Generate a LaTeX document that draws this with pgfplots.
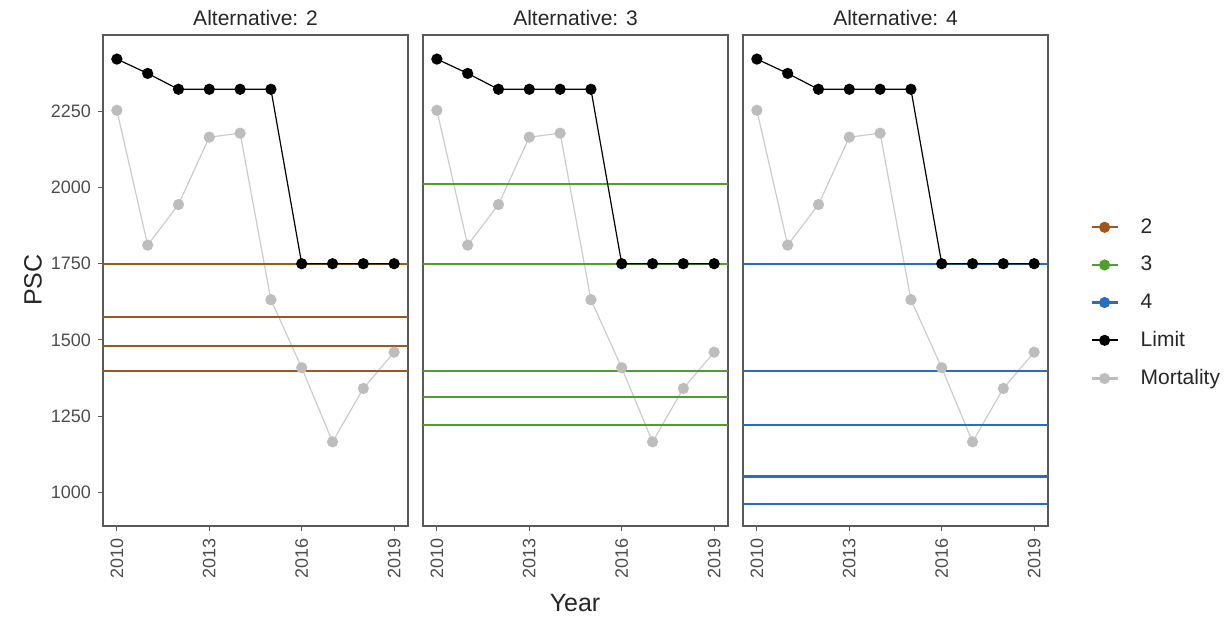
\documentclass[border=0pt]{standalone}
\usepackage{fontspec}
\setmainfont{Liberation Sans}
\usepackage{pgfplots}
\pgfplotsset{compat=1.18}
\definecolor{altbrown}{HTML}{A0581A}
\definecolor{altgreen}{HTML}{4DA02E}
\definecolor{altblue}{HTML}{2A6EBB}
\definecolor{mortgray}{HTML}{BDBDBD}
\definecolor{mortline}{HTML}{CCCCCC}
\definecolor{ticktext}{HTML}{4D4D4D}
\definecolor{framegray}{HTML}{595959}

\pgfplotstableread{
year limit mort
2010 2421 2253
2011 2374 1811
2012 2322 1944
2013 2322 2165
2014 2322 2178
2015 2322 1632
2016 1750 1409
2017 1750 1166
2018 1750 1341
2019 1750 1460
}\datatable

\pgfplotsset{panel/.style={
  scale only axis, width=152.5pt, height=245.5pt, anchor=south west,
  xmin=2009.55, xmax=2019.45, ymin=890, ymax=2500,
  xtick={2010,2013,2016,2019},
  ytick={1000,1250,1500,1750,2000,2250},
  tick align=outside, tick pos=left, major tick length=2.5pt,
  every tick/.style={framegray, line width=0.5pt},
  axis line style={framegray, line width=0.6pt},
  /pgf/number format/1000 sep={},
  /pgf/number format/assume math mode=true,
  tick label style={font=\fontsize{9}{10}\selectfont, text=ticktext},
  xticklabel style={rotate=90, anchor=east},
  title style={font=\fontsize{10.5}{12}\selectfont, text=black!85, at={(0.5,1)}, anchor=south, yshift=-5pt},
  mortstyle/.style={mortline, line width=0.6pt, mark=*, mark size=2.5pt, mark options={fill=mortgray, draw=mortgray}},
  limstyle/.style={black, line width=0.6pt, mark=*, mark size=2.5pt, mark options={fill=black}},
  hl/.style={line width=1.1pt, forget plot},
}}

\begin{document}
\begin{tikzpicture}
\useasboundingbox (0,0) rectangle (615pt,309.5pt);

% Panel 1
\begin{axis}[panel, at={(51.5pt,46.5pt)}, title={Alternative: 2}]
\addplot[mortstyle] table[x=year,y=mort]{\datatable};
\addplot[hl, altbrown] coordinates {(2009.55,1750) (2019.45,1750)};
\addplot[hl, altbrown] coordinates {(2009.55,1574) (2019.45,1574)};
\addplot[hl, altbrown] coordinates {(2009.55,1481) (2019.45,1481)};
\addplot[hl, altbrown] coordinates {(2009.55,1398) (2019.45,1398)};
\addplot[limstyle] table[x=year,y=limit]{\datatable};
\end{axis}

% Panel 2
\begin{axis}[panel, at={(211.5pt,46.5pt)}, title={Alternative: 3}, ytick=\empty]
\addplot[mortstyle] table[x=year,y=mort]{\datatable};
\addplot[hl, altgreen] coordinates {(2009.55,2011) (2019.45,2011)};
\addplot[hl, altgreen] coordinates {(2009.55,1750) (2019.45,1750)};
\addplot[hl, altgreen] coordinates {(2009.55,1398) (2019.45,1398)};
\addplot[hl, altgreen] coordinates {(2009.55,1312) (2019.45,1312)};
\addplot[hl, altgreen] coordinates {(2009.55,1221) (2019.45,1221)};
\addplot[limstyle] table[x=year,y=limit]{\datatable};
\end{axis}

% Panel 3
\begin{axis}[panel, at={(371.5pt,46.5pt)}, title={Alternative: 4}, ytick=\empty,
  legend style={at={(1.138,0.454)}, anchor=west, draw=none, fill=none,
    font=\fontsize{10.5}{12}\selectfont, text=black!85, inner sep=0pt,
    row sep=10pt, nodes={inner sep=0pt},
    /tikz/every odd column/.append style={column sep=11pt}},
  legend cell align=left,
  legend image code/.code={\draw[mark repeat=2,mark phase=2,#1] plot coordinates {(0pt,0pt) (6.5pt,0pt) (13pt,0pt)};}]
\addlegendimage{altbrown, line width=1.1pt, mark=*, mark size=2.2pt}
\addlegendentry{2}
\addlegendimage{altgreen, line width=1.1pt, mark=*, mark size=2.2pt}
\addlegendentry{3}
\addlegendimage{altblue, line width=1.1pt, mark=*, mark size=2.2pt}
\addlegendentry{4}
\addlegendimage{black, line width=1.1pt, mark=*, mark size=2.2pt}
\addlegendentry{Limit}
\addlegendimage{mortgray, line width=1.1pt, mark=*, mark size=2.2pt}
\addlegendentry{Mortality}
\addplot[mortstyle, forget plot] table[x=year,y=mort]{\datatable};
\addplot[hl, altblue] coordinates {(2009.55,1750) (2019.45,1750)};
\addplot[hl, altblue] coordinates {(2009.55,1397) (2019.45,1397)};
\addplot[hl, altblue] coordinates {(2009.55,1222) (2019.45,1222)};
\addplot[hl, altblue] coordinates {(2009.55,1052) (2019.45,1052)};
\addplot[hl, altblue] coordinates {(2009.55,962) (2019.45,962)};
\addplot[limstyle, forget plot] table[x=year,y=limit]{\datatable};
\end{axis}

\node[rotate=90, font=\fontsize{12.5}{14}\selectfont, text=black!85] at (16.5pt,169.5pt) {PSC};
\node[font=\fontsize{12.5}{14}\selectfont, text=black!85] at (287.5pt,8pt) {Year};
\end{tikzpicture}
\end{document}
